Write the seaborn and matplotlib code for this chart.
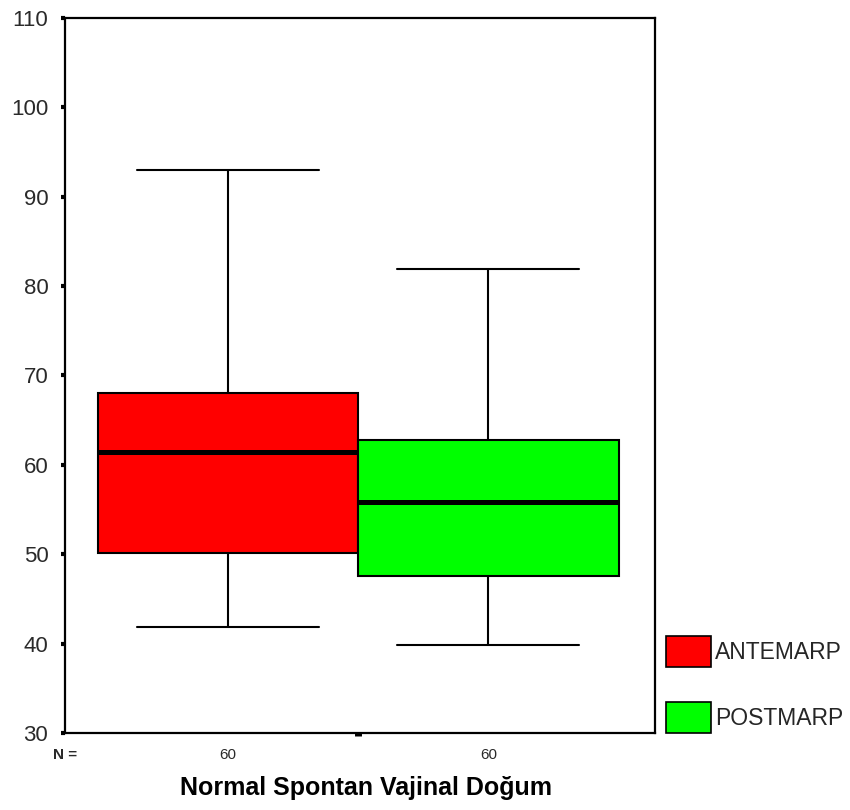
import matplotlib
matplotlib.use("Agg")
import matplotlib.pyplot as plt
import matplotlib.patches as mpatches
import seaborn as sns
import pandas as pd
import numpy as np

# ---- data (five-number summaries) ----
group_label = "Normal Spontan Vajinal Doğum"
series = ["ANTEMARP", "POSTMARP"]
antemarp_vals = [41.9, 50.1, 61.4, 68.0, 93.0]   # min, Q1, median, Q3, max
postmarp_vals = [39.8, 47.6, 55.8, 62.8, 81.9]
n_counts = [60, 60]
colors = ["#FF0000", "#00FF00"]
y_ticks = [30, 40, 50, 60, 70, 80, 90, 100, 110]

df = pd.DataFrame({
    "group": [group_label] * (len(antemarp_vals) + len(postmarp_vals)),
    "series": [series[0]] * len(antemarp_vals) + [series[1]] * len(postmarp_vals),
    "value": antemarp_vals + postmarp_vals,
})

sns.set_style("white")
plt.rcParams["font.family"] = ["Liberation Sans", "DejaVu Sans"]

fig = plt.figure(figsize=(8.5, 8.1), dpi=100)
ax = fig.add_axes([65 / 850, 1 - 733 / 810, 590 / 850, 715 / 810])

sns.boxplot(data=df, x="group", y="value", hue="series", palette=colors,
            hue_order=series, width=0.8, gap=0, whis=(0, 100), saturation=1,
            linecolor="black", linewidth=1.5,
            medianprops=dict(linewidth=3.6, color="black"),
            legend=False, ax=ax)

# shape caps to reference proportion (relative to box width)
box_w = 0.4
for ln in ax.lines:
    xd = np.asarray(ln.get_xdata(), dtype=float)
    yd = np.asarray(ln.get_ydata(), dtype=float)
    if len(xd) == 2 and yd[0] == yd[1] and (xd[1] - xd[0]) < box_w * 0.9:
        c = xd.mean()
        ln.set_xdata([c - box_w * 0.35, c + box_w * 0.35])

ax.set_ylim(30, 110)
ax.set_xlim(-0.45, 0.456)
ax.set_yticks(y_ticks)
ax.set_yticklabels([str(t) for t in y_ticks], fontsize=16, color="#2a2a2a")
ax.set_xticks([0])
ax.set_xticklabels([""])
ax.tick_params(axis="y", direction="out", length=3, width=3, color="black", pad=9, left=True)
ax.tick_params(axis="x", direction="out", length=2, width=5, color="black", bottom=True)
ax.set_ylabel("")

for sp in ax.spines.values():
    sp.set_visible(True)
    sp.set_color("black")
    sp.set_linewidth(1.6)

# N counts under each box (centres taken from the drawn boxes)
box_centres = []
for p in ax.patches:
    ext = p.get_path().get_extents(p.get_transform() - ax.transData)
    box_centres.append((ext.x0 + ext.x1) / 2)
box_centres = sorted(box_centres)[:len(n_counts)]
trans = ax.get_xaxis_transform()
for xc, n in zip(box_centres, n_counts):
    ax.text(xc, -0.031, str(n), transform=trans, ha="center", va="center",
            fontsize=11, color="#2a2a2a")
ax.text(0.0, -0.031, "N =", transform=ax.transAxes, ha="center", va="center",
        fontsize=11, fontweight="bold", color="#2a2a2a")

ax.set_xlabel(group_label, fontsize=18, fontweight="bold", color="black")
ax.xaxis.set_label_coords(0.51, -0.060)

handles = [mpatches.Patch(facecolor=c, edgecolor="black", linewidth=1.2) for c in colors]
fig.legend(handles, series, loc="upper left", bbox_to_anchor=(666 / 850, 1 - 636 / 810),
           frameon=False, fontsize=16.5, handlelength=1.97, handleheight=1.72,
           labelspacing=1.5, handletextpad=0.16, borderpad=0, borderaxespad=0)

fig.savefig("out.png", dpi=100, facecolor="white")
